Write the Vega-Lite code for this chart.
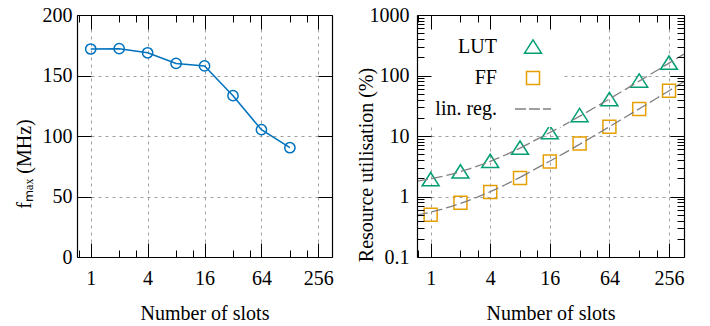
{
  "$schema": "https://vega.github.io/schema/vega-lite/v6.json",
  "padding": {"left": 14, "top": 5, "right": 5, "bottom": 0},
  "spacing": 22,
  "resolve": {"scale": {"color": "independent", "shape": "independent"}, "legend": {"color": "independent", "shape": "independent"}},
  "config": {
    "font": "Liberation Serif",
    "view": {"stroke": null},
    "axis": {
      "domainColor": "#000",
      "domainWidth": 1.2,
      "tickColor": "#000",
      "tickWidth": 1,
      "gridColor": "#a0a0a0",
      "gridDash": [3, 4],
      "gridWidth": 1,
      "labelFont": "Liberation Serif",
      "labelFontSize": 20,
      "labelColor": "#000",
      "titleFont": "Liberation Serif",
      "titleFontSize": 20,
      "titleFontWeight": "normal",
      "titleColor": "#000",
      "labelFlush": false,
      "labelOverlap": false
    },
    "legend": {
      "labelFont": "Liberation Serif",
      "labelFontSize": 20,
      "labelColor": "#000"
    }
  },
  "hconcat": [
    {
      "width": 255,
      "height": 242,
      "data": {
        "values": [
          {"slots": 1, "fmax": 171.9},
          {"slots": 2, "fmax": 172.2},
          {"slots": 4, "fmax": 168.8},
          {"slots": 8, "fmax": 160},
          {"slots": 16, "fmax": 157.9},
          {"slots": 32, "fmax": 133.3},
          {"slots": 64, "fmax": 105.2},
          {"slots": 128, "fmax": 90.3}
        ]
      },
      "resolve": {"axis": {"x": "independent", "y": "independent"}},
      "layer": [
        {
          "mark": {"type": "line", "color": "#0072bd", "strokeWidth": 1.5},
          "encoding": {
            "x": {
              "field": "slots", "type": "quantitative",
              "scale": {"type": "log", "base": 2, "domain": [0.716, 357], "nice": false},
              "axis": {
                "orient": "bottom",
                "values": [0.75, 1, 2, 3, 4, 8, 12, 16, 32, 48, 64, 128, 192, 256],
                "labelExpr": "indexof([1,4,16,64,256], datum.value) >= 0 ? datum.value + '' : ''",
                "tickSize": {"condition": {"test": "indexof([1,4,16,64,256], datum.value) >= 0", "value": -14}, "value": -7},
                "grid": true,
                "gridOpacity": {"condition": {"test": "indexof([1,4,16,64,256], datum.value) >= 0", "value": 1}, "value": 0},
                "labelPadding": 25,
                "title": "Number of slots",
                "titlePadding": 8
              }
            },
            "y": {
              "field": "fmax", "type": "quantitative",
              "scale": {"domain": [0, 200], "nice": false},
              "axis": {
                "orient": "left",
                "values": [0, 50, 100, 150, 200],
                "tickSize": -14,
                "grid": true,
                "labelPadding": 19,
                "title": "fₘₐₓ (MHz)",
                "titleX": -47,
                "titleY": 148.5,
                "titleAngle": -90,
                "titleAlign": "center",
                "titleBaseline": "alphabetic"
              }
            }
          }
        },
        {
          "mark": {"type": "point", "shape": "circle", "size": 105, "color": "#0072bd", "filled": false, "strokeWidth": 1.5, "opacity": 1},
          "encoding": {
            "x": {
              "field": "slots", "type": "quantitative",
              "scale": {"type": "log", "base": 2, "domain": [0.716, 357], "nice": false},
              "axis": {
                "orient": "top",
                "values": [0.75, 1, 2, 3, 4, 8, 12, 16, 32, 48, 64, 128, 192, 256],
                "labels": false,
                "tickSize": {"condition": {"test": "indexof([1,4,16,64,256], datum.value) >= 0", "value": -14}, "value": -7},
                "grid": false,
                "title": null
              }
            },
            "y": {
              "field": "fmax", "type": "quantitative",
              "scale": {"domain": [0, 200], "nice": false},
              "axis": {
                "orient": "right",
                "values": [0, 50, 100, 150, 200],
                "labels": false,
                "tickSize": -14,
                "grid": false,
                "title": null
              }
            }
          }
        }
      ]
    },
    {
      "width": 267,
      "height": 242,
      "data": {
        "values": [
          {"slots": 1, "series": "LUT", "util": 1.9},
          {"slots": 2, "series": "LUT", "util": 2.55},
          {"slots": 4, "series": "LUT", "util": 3.8},
          {"slots": 8, "series": "LUT", "util": 6.3},
          {"slots": 16, "series": "LUT", "util": 11.4},
          {"slots": 32, "series": "LUT", "util": 21.8},
          {"slots": 64, "series": "LUT", "util": 40},
          {"slots": 128, "series": "LUT", "util": 81},
          {"slots": 256, "series": "LUT", "util": 160},
          {"slots": 1, "series": "FF", "util": 0.5},
          {"slots": 2, "series": "FF", "util": 0.79},
          {"slots": 4, "series": "FF", "util": 1.19},
          {"slots": 8, "series": "FF", "util": 2.03},
          {"slots": 16, "series": "FF", "util": 3.8},
          {"slots": 32, "series": "FF", "util": 7.5},
          {"slots": 64, "series": "FF", "util": 14.2},
          {"slots": 128, "series": "FF", "util": 28},
          {"slots": 256, "series": "FF", "util": 56}
        ]
      },
      "resolve": {"axis": {"x": "independent", "y": "independent"}},
      "layer": [
        {
          "mark": {"type": "point", "filled": false, "size": 169, "strokeWidth": 1.5, "opacity": 1},
          "encoding": {
            "x": {
              "field": "slots", "type": "quantitative",
              "scale": {"type": "log", "base": 2, "domain": [0.728, 363], "nice": false},
              "axis": {
                "orient": "bottom",
                "zindex": 1,
                "values": [0.75, 1, 2, 3, 4, 8, 12, 16, 32, 48, 64, 128, 192, 256],
                "labelExpr": "indexof([1,4,16,64,256], datum.value) >= 0 ? datum.value + '' : ''",
                "tickSize": {"condition": {"test": "indexof([1,4,16,64,256], datum.value) >= 0", "value": -14}, "value": -7},
                "grid": false,
                "labelPadding": 25,
                "title": "Number of slots",
                "titlePadding": 8
              }
            },
            "y": {
              "field": "util", "type": "quantitative",
              "scale": {"type": "log", "domain": [0.1, 1000], "nice": false},
              "axis": {
                "orient": "left",
                "zindex": 1,
                "values": [0.1, 0.2, 0.3, 0.4, 0.5, 0.6, 0.7, 0.8, 0.9, 1, 2, 3, 4, 5, 6, 7, 8, 9, 10, 20, 30, 40, 50, 60, 70, 80, 90, 100, 200, 300, 400, 500, 600, 700, 800, 900, 1000],
                "labelExpr": "indexof([0.1,1,10,100,1000], datum.value) >= 0 ? datum.value + '' : ''",
                "tickSize": {"condition": {"test": "indexof([0.1,1,10,100,1000], datum.value) >= 0", "value": -14}, "value": -7},
                "grid": false,
                "labelPadding": 22,
                "title": "Resource utilisation (%)",
                "titleX": -44.7,
                "titleY": 149.5,
                "titleAngle": -90,
                "titleAlign": "center",
                "titleBaseline": "alphabetic"
              }
            },
            "color": {
              "field": "series", "type": "nominal",
              "scale": {"domain": ["LUT", "FF", "lin. reg."], "range": ["#009e73", "#e69f00", "#808080"]},
              "legend": {
                "title": null, "orient": "none", "legendX": -1, "legendY": 14, "padding": 8,
                "fillColor": "white", "labelAlign": "right", "labelOffset": -46, "symbolOffset": 99,
                "labelFont": "Liberation Serif", "labelFontSize": 20,
                "rowPadding": 11, "symbolSize": 169, "symbolStrokeWidth": 1.5, "zindex": 0
              }
            },
            "shape": {
              "field": "series", "type": "nominal",
              "scale": {"domain": ["LUT", "FF", "lin. reg."], "range": ["M0,-1.1L1.3,0.95L-1.3,0.95Z", "square", "M-2.77,0H-1.08M-0.62,0H1.07M1.53,0H2.77"]},
              "legend": {
                "title": null, "orient": "none", "legendX": -1, "legendY": 14, "padding": 8,
                "fillColor": "white", "labelAlign": "right", "labelOffset": -46, "symbolOffset": 99,
                "labelFont": "Liberation Serif", "labelFontSize": 20,
                "rowPadding": 11, "symbolSize": 169, "symbolStrokeWidth": 1.5, "zindex": 0
              }
            }
          }
        },
        {
          "transform": [{"regression": "util", "on": "slots", "groupby": ["series"], "method": "poly", "order": 1, "extent": [0.728, 8]}],
          "mark": {"type": "line", "color": "#808080", "strokeWidth": 1.3, "strokeDash": [11, 4]},
          "encoding": {
            "x": {
              "field": "slots", "type": "quantitative",
              "scale": {"type": "log", "base": 2, "domain": [0.728, 363], "nice": false},
              "axis": {
                "orient": "top",
                "zindex": 1,
                "values": [0.75, 1, 2, 3, 4, 8, 12, 16, 32, 48, 64, 128, 192, 256],
                "labels": false,
                "tickSize": {"condition": {"test": "indexof([1,4,16,64,256], datum.value) >= 0", "value": -14}, "value": -7},
                "grid": false,
                "title": null
              }
            },
            "y": {
              "field": "util", "type": "quantitative",
              "scale": {"type": "log", "domain": [0.1, 1000], "nice": false},
              "axis": {
                "orient": "right",
                "zindex": 1,
                "values": [0.1, 0.2, 0.3, 0.4, 0.5, 0.6, 0.7, 0.8, 0.9, 1, 2, 3, 4, 5, 6, 7, 8, 9, 10, 20, 30, 40, 50, 60, 70, 80, 90, 100, 200, 300, 400, 500, 600, 700, 800, 900, 1000],
                "labels": false,
                "tickSize": {"condition": {"test": "indexof([0.1,1,10,100,1000], datum.value) >= 0", "value": -14}, "value": -7},
                "grid": false,
                "title": null
              }
            },
            "detail": {"field": "series", "type": "nominal"}
          }
        },
        {
          "transform": [{"regression": "util", "on": "slots", "groupby": ["series"], "method": "poly", "order": 1, "extent": [8, 363]}],
          "mark": {"type": "line", "color": "#808080", "strokeWidth": 1.3, "strokeDash": [11, 4]},
          "encoding": {
            "x": {
              "field": "slots", "type": "quantitative",
              "scale": {"type": "log", "base": 2, "domain": [0.728, 363], "nice": false},
              "axis": {
                "orient": "bottom",
                "zindex": 0,
                "values": [1, 4, 16, 64, 256],
                "labels": false,
                "ticks": false,
                "domain": false,
                "grid": true,
                "title": null
              }
            },
            "y": {
              "field": "util", "type": "quantitative",
              "scale": {"type": "log", "domain": [0.1, 1000], "nice": false},
              "axis": {
                "orient": "left",
                "zindex": 0,
                "values": [1, 10, 100],
                "labels": false,
                "ticks": false,
                "domain": false,
                "grid": true,
                "title": null
              }
            },
            "detail": {"field": "series", "type": "nominal"}
          }
        }
      ]
    }
  ]
}
